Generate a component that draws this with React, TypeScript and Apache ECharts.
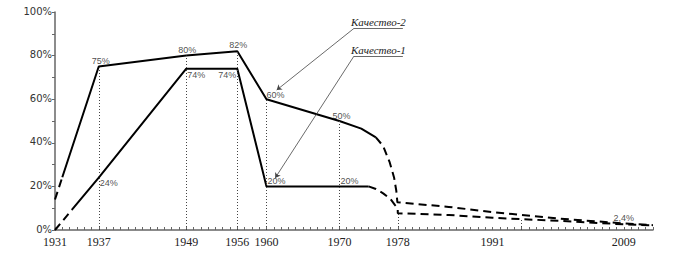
import React, { useEffect, useRef } from 'react';
import * as echarts from 'echarts';

// Axis ticks
const xTickYears = [1931, 1937, 1949, 1956, 1960, 1970, 1978, 1991, 2009];
const yTickValues = [0, 20, 40, 60, 80, 100];

// "Качество-2" (upper curve): [year, %]
const q2StartDashed = [[1931, 14], [1932, 24.2]];
const q2Solid = [[1932, 24.2], [1937, 75], [1949, 80], [1956, 82], [1960, 60], [1970, 50], [1973, 46.5], [1975, 42.5]];
const q2EndDashed = [[1975, 42.5], [1976, 38.5], [1976.9, 31], [1977.5, 24], [1977.8, 18], [1977.95, 12.7], [1978, 12.7], [1985, 10.6], [1991, 8.2], [2000, 5.3], [2009, 3.0], [2013, 2.2]];

// "Качество-1" (lower curve): [year, %]
const q1StartDashed = [[1931, 0], [1933.3, 9.2]];
const q1Solid = [[1933.3, 9.2], [1937, 24], [1949, 74], [1956, 74], [1960, 20], [1970, 20], [1974, 20]];
const q1EndDashed = [[1974, 20], [1975, 18.8], [1976, 16.8], [1977, 14.2], [1977.6, 11.5], [1978, 10], [1978, 7.7], [1985, 6.9], [1991, 5.6], [2000, 4.2], [2009, 2.6], [2013, 2.1]];

// Point value labels
const labelYears = [1937, 1949, 1956, 1960, 1970, 2009, 1937, 1949, 1956, 1960, 1970];
const labelValues = [75, 80, 82, 60, 50, 2.4, 24, 74, 74, 20, 20];
const labelTexts = ['75%', '80%', '82%', '60%', '50%', '2,4%', '24%', '74%', '74%', '20%', '20%'];

// Dotted drop lines: [year, %]
const dropLines = [[1937, 75], [1949, 80], [1956, 82], [1960, 60], [1970, 50], [1978, 7.7], [1995, 4.6]];

// Series names
const seriesNames = ['Качество-2', 'Качество-1'];

// label offsets (styling, px) per label index
const labelOffsets = [[2, -6], [1, -6], [1, -6], [9, -4], [2, -5], [0, -7], [10, 5], [10, 6], [-10, 6], [10, -5], [10, -5]];

const solid = { color: '#000', width: 2, type: 'solid' as const };
const dashed = { color: '#000', width: 2, type: [8, 5] as any };

function lineSeries(name: string, data: number[][], style: any) {
  return {
    name,
    type: 'line',
    data,
    symbol: 'none',
    lineStyle: style,
    silent: true,
    z: 3,
  };
}

export default function App() {
  const ref = useRef<HTMLDivElement>(null);
  useEffect(() => {
    if (!ref.current) return;
    const chart = echarts.init(ref.current, undefined, { renderer: 'svg' });
    const annotText = {
      fontFamily: 'Liberation Serif',
      fontStyle: 'italic',
      fontSize: 11,
      color: '#222',
    };
    chart.setOption({
      animation: false,
      backgroundColor: '#fff',
      grid: { left: 55, right: 24, top: 12, bottom: 25, containLabel: false, outerBoundsMode: 'none' },
      xAxis: {
        type: 'value',
        min: 1931,
        max: 2013,
        interval: 1,
        axisLine: { show: true, onZero: false, lineStyle: { color: '#666', width: 1.5 } },
        axisTick: { show: true, inside: true, length: 3, lineStyle: { color: '#666' } },
        axisLabel: {
          formatter: (v: number) => (xTickYears.includes(Math.round(v)) ? String(Math.round(v)) : ''),
          fontFamily: 'Liberation Serif',
          fontSize: 12,
          lineHeight: 12,
          color: '#222',
          margin: 6,
        },
        splitLine: { show: false },
      },
      yAxis: {
        type: 'value',
        min: 0,
        max: 100,
        interval: 10,
        axisLine: { show: true, lineStyle: { color: '#666', width: 1.5 } },
        axisTick: { show: true, length: 3, lineStyle: { color: '#666' } },
        axisLabel: {
          formatter: (v: number) => (yTickValues.includes(v) ? v + '%' : ''),
          fontFamily: 'DejaVu Sans',
          fontSize: 10,
          lineHeight: 10,
          color: '#333',
          margin: 3,
          verticalAlign: 'bottom',
          padding: [0, 0, -4, 0],
        },
        splitLine: { show: false },
      },
      series: [
        {
          name: 'drops',
          type: 'line',
          data: [],
          silent: true,
          z: 1,
          markLine: {
            silent: true,
            symbol: ['none', 'none'],
            label: { show: false },
            lineStyle: { color: '#444', width: 1, type: [1, 2] },
            data: dropLines.map(([x, y]) => [{ coord: [x, 0] }, { coord: [x, y] }]),
          },
        },
        lineSeries(seriesNames[0], q2StartDashed, dashed),
        lineSeries(seriesNames[0], q2Solid, solid),
        lineSeries(seriesNames[0], q2EndDashed, dashed),
        lineSeries(seriesNames[1], q1StartDashed, dashed),
        lineSeries(seriesNames[1], q1Solid, solid),
        lineSeries(seriesNames[1], q1EndDashed, dashed),
        {
          name: 'leaders',
          type: 'line',
          data: [],
          silent: true,
          z: 2,
          markLine: {
            silent: true,
            symbol: ['none', 'arrow'],
            symbolSize: 5,
            label: { show: false },
            lineStyle: { color: '#444', width: 0.8, type: 'solid' },
            data: [
              [{ coord: [1972, 92.5] }, { coord: [1961.4, 64.2] }],
              [{ coord: [1972, 79.8] }, { coord: [1961.2, 23.9] }],
            ],
          },
        },
        {
          name: 'underlines',
          type: 'line',
          data: [],
          silent: true,
          z: 2,
          markLine: {
            silent: true,
            symbol: ['none', 'none'],
            lineStyle: { color: '#444', width: 0.8, type: 'solid' },
            label: { show: true, position: 'insideMiddleTop', distance: 1, ...annotText },
            data: [
              [{ coord: [1972, 92.5], label: { formatter: seriesNames[0] } }, { coord: [1978.7, 92.5] }],
              [{ coord: [1972, 79.8], label: { formatter: seriesNames[1] } }, { coord: [1978.7, 79.8] }],
            ],
          },
        },
        {
          name: 'labels',
          type: 'scatter',
          symbolSize: 1,
          itemStyle: { color: 'rgba(0,0,0,0)' },
          silent: true,
          z: 4,
          label: {
            show: true,
            position: 'inside',
            fontFamily: 'Liberation Sans',
            fontSize: 9,
            color: '#1a1a1a',
            formatter: (p: any) => labelTexts[p.dataIndex],
          },
          data: labelYears.map((x, i) => ({
            value: [x, labelValues[i]],
            label: { offset: labelOffsets[i] },
          })),
        },
      ],
    });
    return () => chart.dispose();
  }, []);
  return <div ref={ref} style={{ position: 'absolute', left: 0, top: 0, width: 677, height: 255, background: '#fff' }} />;
}
